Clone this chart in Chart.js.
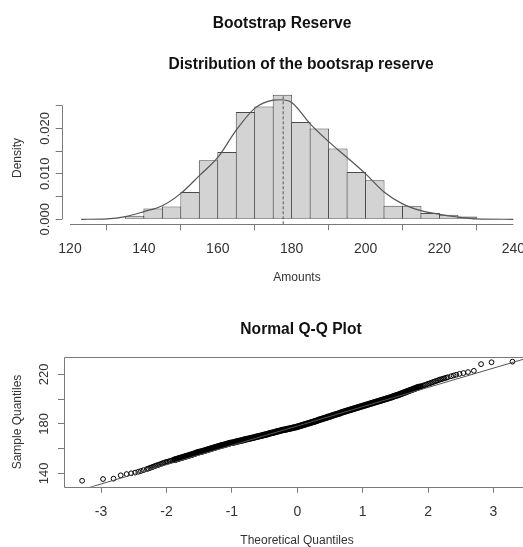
<!DOCTYPE html>
<html>
<head>
<meta charset="utf-8">
<script src="https://cdn.jsdelivr.net/npm/chart.js@4.4.1/dist/chart.umd.min.js"></script>
<style>
  html, body { margin: 0; padding: 0; overflow: hidden; background: #fff; }
  #wrap { position: relative; width: 523px; height: 547px; overflow: hidden; background: #fff; }
  canvas { position: absolute; left: 0; }
  .t { position: absolute; font-family: 'Liberation Sans', Arial, sans-serif; white-space: nowrap;
       line-height: 1; transform: translate(-50%, -50%); color: #111; }
  .main { font-weight: bold; font-size: 15.6px; }
  .lab { font-size: 12px; color: #333; }
  .rot { transform: translate(-50%, -50%) rotate(-90deg); }
</style>
</head>
<body>
<div id="wrap">
  <canvas id="hist" width="540" height="300" style="top:0"></canvas>
  <canvas id="qq" width="540" height="247" style="top:300px"></canvas>
  <div class="t main" style="left:282px; top:22.5px">Bootstrap Reserve</div>
  <div class="t main" style="left:301px; top:64px">Distribution of the bootsrap reserve</div>
  <div class="t lab rot" style="left:16.7px; top:158px">Density</div>
  <div class="t lab" style="left:297px; top:276.7px">Amounts</div>
  <div class="t main" style="left:301px; top:329px">Normal Q-Q Plot</div>
  <div class="t lab rot" style="left:16.7px; top:421.7px">Sample Quantiles</div>
  <div class="t lab" style="left:297px; top:540px">Theoretical Quantiles</div>
</div>
<script>
// ---- Histogram of the bootstrap reserve (bin width 5) ----
const binMids = [132.5, 137.5, 142.5, 147.5, 152.5, 157.5, 162.5, 167.5, 172.5, 177.5,
                 182.5, 187.5, 192.5, 197.5, 202.5, 207.5, 212.5, 217.5, 222.5, 227.5];
const binDensity = [0.0002, 0.0008, 0.0024, 0.0028, 0.0060, 0.0130, 0.0148, 0.0236, 0.0248, 0.0274,
                    0.0214, 0.0200, 0.0156, 0.0104, 0.0086, 0.0030, 0.0030, 0.0014, 0.0010, 0.0006];

// Kernel density estimate overlaid on the histogram
const densityX = [123, 130, 135, 140, 145, 150, 155, 160, 165, 170, 175, 177, 180,
                  185, 190, 195, 200, 205, 210, 215, 220, 225, 230, 240];
const densityY = [0.0000, 0.0001, 0.0006, 0.0017, 0.0030, 0.0057, 0.0096, 0.0136, 0.0196, 0.0244,
                  0.0262, 0.0263, 0.0257, 0.0210, 0.0171, 0.0136, 0.0100, 0.0060, 0.0034, 0.0019,
                  0.0011, 0.0005, 0.0001, 0.0000];

// Mean of the bootstrap reserve (dashed marker)
const meanReserve = 177.7;
const meanLineY = [-0.0011, 0.0274];

const histXTicks = [120, 140, 160, 180, 200, 220, 240];
const histYTicks = [0, 0.005, 0.010, 0.015, 0.020, 0.025];
const histYLabelled = [0, 0.010, 0.020];

// ---- Normal Q-Q plot: theoretical vs sample quantiles ----
const qqTheo = [-3.29, -2.97, -2.81, -2.70, -2.61, -2.54, -2.48, -2.43, -2.39, -2.35,
  -2.300, -2.275, -2.250, -2.225, -2.200, -2.175, -2.150, -2.125, -2.100, -2.075,
  -2.050, -2.025, -2.000, -1.975, -1.950, -1.925, -1.900, -1.875, -1.850, -1.825,
  -1.800, -1.775, -1.750, -1.725, -1.700, -1.675, -1.650, -1.625, -1.600, -1.575,
  -1.550, -1.525, -1.500, -1.475, -1.450, -1.425, -1.400, -1.375, -1.350, -1.325,
  -1.300, -1.275, -1.250, -1.225, -1.200, -1.175, -1.150, -1.125, -1.100, -1.075,
  -1.050, -1.025, -1.000, -0.975, -0.950, -0.925, -0.900, -0.875, -0.850, -0.825,
  -0.800, -0.775, -0.750, -0.725, -0.700, -0.675, -0.650, -0.625, -0.600, -0.575,
  -0.550, -0.525, -0.500, -0.475, -0.450, -0.425, -0.400, -0.375, -0.350, -0.325,
  -0.300, -0.275, -0.250, -0.225, -0.200, -0.175, -0.150, -0.125, -0.100, -0.075,
  -0.050, -0.025, 0.000, 0.025, 0.050, 0.075, 0.100, 0.125, 0.150, 0.175,
  0.200, 0.225, 0.250, 0.275, 0.300, 0.325, 0.350, 0.375, 0.400, 0.425,
  0.450, 0.475, 0.500, 0.525, 0.550, 0.575, 0.600, 0.625, 0.650, 0.675,
  0.700, 0.725, 0.750, 0.775, 0.800, 0.825, 0.850, 0.875, 0.900, 0.925,
  0.950, 0.975, 1.000, 1.025, 1.050, 1.075, 1.100, 1.125, 1.150, 1.175,
  1.200, 1.225, 1.250, 1.275, 1.300, 1.325, 1.350, 1.375, 1.400, 1.425,
  1.450, 1.475, 1.500, 1.525, 1.550, 1.575, 1.600, 1.625, 1.650, 1.675,
  1.700, 1.725, 1.750, 1.775, 1.800, 1.825, 1.850, 1.875, 1.900, 1.925,
  1.950, 1.975, 2.000, 2.025, 2.050, 2.075, 2.100, 2.125, 2.150, 2.175,
  2.200, 2.225, 2.250, 2.275, 2.300,
  2.35, 2.39, 2.43, 2.48, 2.54, 2.61, 2.70, 2.81, 2.97, 3.29];
const qqSample = [134.0, 135.4, 135.7, 138.4, 139.4, 140.0, 140.6, 141.3, 141.9, 142.6,
  143.5, 143.9, 144.4, 144.9, 145.4, 145.9, 146.4, 146.8, 147.3, 147.8,
  148.3, 148.8, 149.2, 149.5, 149.9, 150.3, 150.6, 151.0, 151.4, 151.7,
  152.1, 152.5, 152.9, 153.4, 153.8, 154.2, 154.6, 155.1, 155.5, 155.9,
  156.4, 156.8, 157.2, 157.5, 157.9, 158.3, 158.7, 159.0, 159.4, 159.8,
  160.2, 160.6, 161.0, 161.4, 161.8, 162.2, 162.6, 162.9, 163.3, 163.6,
  164.0, 164.4, 164.7, 165.0, 165.3, 165.7, 166.0, 166.3, 166.6, 167.0,
  167.3, 167.6, 167.9, 168.2, 168.5, 168.8, 169.1, 169.5, 169.8, 170.1,
  170.4, 170.8, 171.1, 171.4, 171.8, 172.1, 172.5, 172.8, 173.2, 173.5,
  173.9, 174.2, 174.5, 174.9, 175.2, 175.5, 175.8, 176.1, 176.4, 176.7,
  177.0, 177.3, 177.6, 178.0, 178.4, 178.8, 179.2, 179.6, 180.0, 180.4,
  180.8, 181.2, 181.6, 182.1, 182.5, 183.0, 183.4, 183.9, 184.3, 184.7,
  185.1, 185.6, 186.0, 186.5, 186.9, 187.4, 187.8, 188.2, 188.6, 189.1,
  189.5, 190.0, 190.4, 190.8, 191.2, 191.6, 192.0, 192.4, 192.8, 193.2,
  193.6, 194.0, 194.4, 194.8, 195.2, 195.6, 196.0, 196.4, 196.8, 197.2,
  197.6, 198.0, 198.4, 198.8, 199.2, 199.6, 200.0, 200.5, 200.9, 201.3,
  201.7, 202.2, 202.6, 203.0, 203.5, 204.0, 204.5, 205.0, 205.5, 206.0,
  206.5, 207.1, 207.6, 208.1, 208.6, 209.1, 209.5, 210.0, 210.4, 210.9,
  211.3, 211.8, 212.3, 212.7, 213.2, 213.7, 214.2, 214.6, 215.1, 215.6,
  216.0, 216.4, 216.8, 217.2, 217.6,
  218.4, 219.0, 219.6, 220.3, 221.0, 221.8, 222.8, 228.2, 229.7, 230.2];

// Reference line through the quartiles
const qqLineQ = [-3.6, 3.6];
const qqLineV = [122.04, 234.36];

const qqXTicks = [-3, -2, -1, 0, 1, 2, 3];
const qqYTicks = [140, 160, 180, 200, 220];
const qqYLabelled = [140, 180, 220];

// ---- styling ----
Chart.defaults.font.family = "'Liberation Sans', Arial, sans-serif";
Chart.defaults.font.size = 13;
const axisColor = '#7a7a7a';
const tickTextColor = '#333';
const markColor = '#4a4a4a';

// Draws R-style axis lines (spanning first to last tick) or a full box
const rAxisLines = {
  id: 'rAxisLines',
  afterDraw(chart, args, opts) {
    const { ctx, chartArea: a, scales: { x, y } } = chart;
    ctx.save();
    ctx.strokeStyle = opts.color;
    ctx.lineWidth = 1;
    ctx.beginPath();
    if (opts.box) {
      ctx.rect(Math.round(a.left) + 0.5, Math.round(a.top) + 0.5,
               Math.round(a.right - a.left), Math.round(a.bottom - a.top));
    } else {
      const yb = Math.round(a.bottom) + 0.5;
      ctx.moveTo(x.getPixelForValue(opts.xFrom), yb);
      ctx.lineTo(x.getPixelForValue(opts.xTo), yb);
      const xl = Math.round(a.left) + 0.5;
      ctx.moveTo(xl, y.getPixelForValue(opts.yFrom));
      ctx.lineTo(xl, y.getPixelForValue(opts.yTo));
    }
    ctx.stroke();
    ctx.restore();
  }
};

function tickGrid() {
  return { display: true, drawOnChartArea: false, drawTicks: true, tickLength: 6,
           color: axisColor, tickColor: axisColor, lineWidth: 1 };
}

// Histogram with density curve
new Chart(document.getElementById('hist'), {
  type: 'bar',
  data: {
    datasets: [
      {
        type: 'line', label: 'density', order: 1,
        data: densityX.map((v, i) => ({ x: v, y: densityY[i] })),
        borderColor: '#555', borderWidth: 1.2, pointRadius: 0,
        cubicInterpolationMode: 'monotone', fill: false
      },
      {
        type: 'line', label: 'mean', order: 0,
        data: meanLineY.map(v => ({ x: meanReserve, y: v })),
        borderColor: '#555', borderWidth: 1, borderDash: [3, 2], pointRadius: 0, fill: false
      },
      {
        type: 'bar', label: 'histogram', order: 2,
        data: binMids.map((v, i) => ({ x: v, y: binDensity[i] })),
        backgroundColor: '#d3d3d3', borderColor: markColor, borderWidth: 1,
        borderSkipped: false, barPercentage: 1.054, categoryPercentage: 1, grouped: false
      }
    ]
  },
  options: {
    responsive: false, animation: false, events: [],
    layout: { padding: { top: 89.3, right: 9.3, left: 0, bottom: 0 } },
    plugins: { legend: { display: false }, tooltip: { enabled: false },
               rAxisLines: { color: axisColor, xFrom: 120, xTo: 240, yFrom: 0, yTo: 0.025 } },
    scales: {
      x: {
        type: 'linear', min: 117.75, max: 244.7, offset: false,
        afterBuildTicks: s => { s.ticks = histXTicks.map(v => ({ value: v })); },
        afterFit: s => { s.height = 300 - 224.3; },
        grid: tickGrid(), border: { display: false },
        ticks: { color: tickTextColor, font: { size: 14 }, padding: 10, maxRotation: 0, autoSkip: false,
                 callback: v => String(v) }
      },
      y: {
        type: 'linear', min: -0.0011, max: 0.0286,
        afterBuildTicks: s => { s.ticks = histYTicks.map(v => ({ value: v })); },
        afterFit: s => { s.width = 61.7; },
        grid: tickGrid(), border: { display: false },
        ticks: { color: tickTextColor, minRotation: 90, maxRotation: 90, crossAlign: 'center',
                 padding: -5.6, autoSkip: false,
                 callback: v => histYLabelled.includes(v) ? v.toFixed(3) : '' }
      }
    }
  },
  plugins: [rAxisLines]
});

// Normal Q-Q plot; the crowded middle of the sample overplots into a solid band
new Chart(document.getElementById('qq'), {
  type: 'scatter',
  data: {
    datasets: [
      {
        type: 'line', label: 'qqline', order: 0,
        data: qqLineQ.map((v, i) => ({ x: v, y: qqLineV[i] })),
        borderColor: '#555', borderWidth: 1, pointRadius: 0, fill: false
      },
      {
        type: 'scatter', label: 'sample', order: 1,
        data: qqTheo.map((v, i) => ({ x: v, y: qqSample[i] })),
        pointStyle: 'circle', pointRadius: 2.4,
        pointBorderWidth: c => (c.raw && Math.abs(c.raw.x) < 1.9 ? 1.7 : 1),
        pointBackgroundColor: 'rgba(0,0,0,0)', pointBorderColor: '#000'
      }
    ]
  },
  options: {
    responsive: false, animation: false, events: [],
    layout: { padding: { top: 56.7, right: 10.2, left: 0, bottom: 0 } },
    plugins: { legend: { display: false }, tooltip: { enabled: false },
               rAxisLines: { color: axisColor, box: true } },
    scales: {
      x: {
        type: 'linear', min: -3.567, max: 3.555,
        afterBuildTicks: s => { s.ticks = qqXTicks.map(v => ({ value: v })); },
        afterFit: s => { s.height = 247 - 186.7; },
        grid: tickGrid(), border: { display: false },
        ticks: { color: tickTextColor, font: { size: 14 }, padding: 11, maxRotation: 0, autoSkip: false,
                 callback: v => String(v) }
      },
      y: {
        type: 'linear', min: 129.2, max: 234.2,
        afterBuildTicks: s => { s.ticks = qqYTicks.map(v => ({ value: v })); },
        afterFit: s => { s.width = 64; },
        grid: tickGrid(), border: { display: false },
        ticks: { color: tickTextColor, minRotation: 90, maxRotation: 90, crossAlign: 'center',
                 padding: 2.5, autoSkip: false,
                 callback: v => qqYLabelled.includes(v) ? String(v) : '' }
      }
    }
  },
  plugins: [rAxisLines]
});
</script>
</body>
</html>
